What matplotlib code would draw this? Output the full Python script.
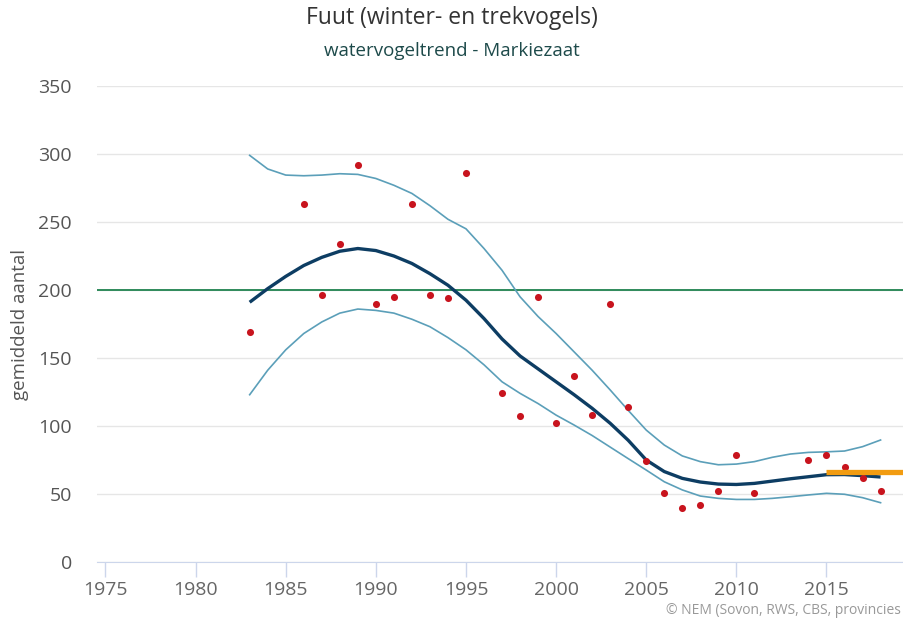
import matplotlib.pyplot as plt
import numpy as np

plt.rcParams['font.family'] = ['Open Sans', 'DejaVu Sans']

# yearly counts (red dots)
count_years = [1983, 1986, 1987, 1988, 1989, 1990, 1991, 1992, 1993, 1994, 1995,
               1997, 1998, 1999, 2000, 2001, 2002, 2003, 2004, 2005, 2006, 2007,
               2008, 2009, 2010, 2011, 2014, 2015, 2016, 2017, 2018]
counts = [169, 263, 196, 234, 292, 190, 195, 263, 196, 194, 286,
          124, 107, 195, 102, 137, 108, 190, 114, 74, 51, 40,
          42, 52, 79, 51, 75, 79, 70, 62, 52]

# trend with confidence band
trend_years = list(range(1983, 2019))
trend = [191, 201, 210, 218, 224, 228.5, 230.5, 229, 225, 219.5, 212, 203.5,
         192.5, 179, 164, 151.5, 142, 132.5, 123, 113, 102, 89.5,
         75, 66.5, 61.5, 58.8, 57.3, 57, 57.8, 59.5, 61.2, 62.7, 64.2, 64.3, 63.5, 62.5]
upper = [299, 289, 284.5, 284, 284.5, 285.5, 285, 282, 277, 271, 262, 252,
         245, 230.5, 214.5, 195, 180.5, 168, 154.5, 141, 126.5, 111.5,
         97, 86, 78, 73.8, 71.5, 72, 73.8, 77, 79.4, 80.6, 81, 81.6, 84.8, 89.7]
lower = [123, 141, 156, 168, 176.5, 183, 186, 185, 183, 178.5, 173, 165,
         156, 145, 132.5, 124, 116.5, 108, 100.7, 93, 84.5, 76,
         67.6, 59, 53, 48.5, 46.8, 46, 46, 46.8, 48, 49.3, 50.5, 49.8, 47.3, 43.6]

reference_level = 200
recent_years = [2015, 2020]
recent_level = [66, 66]

fig = plt.figure(figsize=(9.04, 6.18), dpi=100)
ax = fig.add_axes([97 / 904, 1 - 562 / 618, 807 / 904, 476 / 618])

ax.set_xlim(1974.53, 2019.3)
ax.set_ylim(0, 350)

ax.plot(trend_years, upper, color='#5b9fb9', lw=1.2, zorder=3)
ax.plot(trend_years, lower, color='#5b9fb9', lw=1.2, zorder=3)
ax.axhline(reference_level, color='#2f8a5b', lw=1.4, zorder=2)
ax.plot(trend_years, trend, color='#0d3d63', lw=2.4, zorder=4, solid_capstyle='butt')
ax.scatter(count_years, counts, s=26, color='#c8141e', zorder=5, linewidths=0)
ax.plot(recent_years, recent_level, color='#f29c11', lw=3.8, zorder=6, solid_capstyle='butt')

ax.set_yticks(np.arange(0, 351, 50))
ax.set_xticks(np.arange(1975, 2016, 5))
ax.yaxis.grid(True, color='#e6e6e6', lw=1)
ax.set_axisbelow(True)
for s in ['top', 'right', 'left']:
    ax.spines[s].set_visible(False)
ax.spines['bottom'].set_color('#ccd6eb')
ax.tick_params(axis='y', length=0, pad=18, labelsize=14, labelcolor='#555555')
ax.tick_params(axis='x', length=11, color='#ccd6eb', width=1, pad=3,
               labelsize=14, labelcolor='#666666')

ax.set_ylabel('gemiddeld aantal', fontsize=13.5, color='#555555')
ax.yaxis.set_label_coords(-0.097 + 10 / 807, 0.5)

fig.text(0.5, 1 - 18 / 618, 'Fuut (winter- en trekvogels)', ha='center', va='center',
         fontsize=16.5, color='#333333')
fig.text(0.5, 1 - 51 / 618, 'watervogeltrend - Markiezaat', ha='center', va='center',
         fontsize=13.5, color='#1d4a4a')
fig.text(901 / 904, 1 - 611 / 618, '\u00a9 NEM (Sovon, RWS, CBS, provincies',
         ha='right', va='center', fontsize=10, color='#999999')

fig.savefig('out.png', dpi=100)
